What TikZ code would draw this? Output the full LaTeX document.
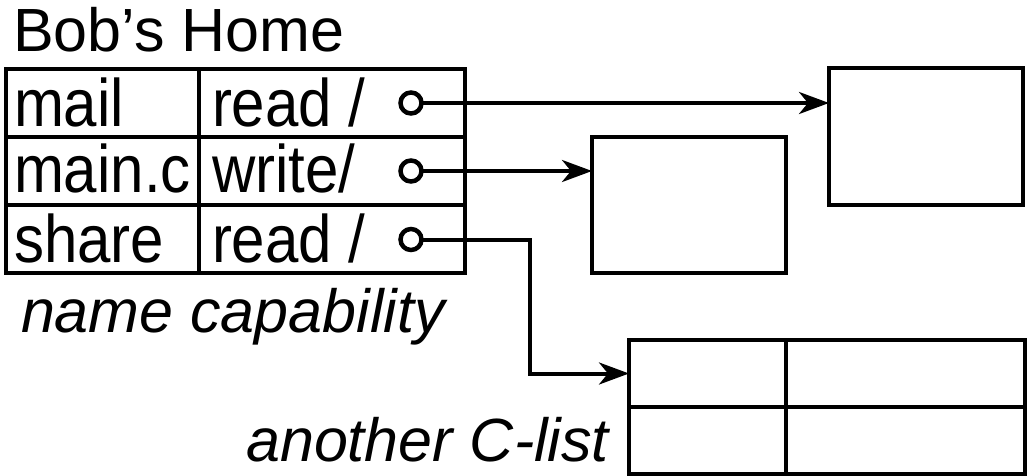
\documentclass[tikz,border=0pt]{standalone}
\usepackage{fontspec}
\setmainfont{Liberation Sans}
\usetikzlibrary{arrows.meta}
\newcommand{\tall}[1]{\scalebox{1}[1.12]{#1}}
\begin{document}
\begin{tikzpicture}[x=1pt,y=-1pt,
  line width=4.5pt,
  cellbox/.style={draw, rectangle, inner sep=0pt, outer sep=0pt, anchor=north west},
  txt/.style={inner sep=0pt, outer sep=0pt, anchor=base west, font=\fontsize{60}{60}\selectfont},
  itxt/.style={inner sep=0pt, outer sep=0pt, font=\fontsize{61}{61}\selectfont\itshape},
  port/.style={draw, circle, minimum size=21pt, inner sep=0pt, outer sep=0pt, fill=white},
  link/.style={line width=4pt, -{Stealth[length=30pt, width=22pt, inset=9pt]}},
  plain/.style={line width=4pt}
]
\useasboundingbox (0,0) rectangle (1029,476);

% title
\node[inner sep=0pt, anchor=base west, font=\fontsize{61}{61}\selectfont] (title) at (11,52) {Bob’s Home};

% C-list table of Bob's Home
\node[cellbox, minimum width=193pt, minimum height=68pt] (n1) at (6,69) {};
\node[cellbox, minimum width=266pt, minimum height=68pt] (k1) at (199,69) {};
\node[cellbox, minimum width=193pt, minimum height=68pt] (n2) at (6,137) {};
\node[cellbox, minimum width=266pt, minimum height=68pt] (k2) at (199,137) {};
\node[cellbox, minimum width=193pt, minimum height=68pt] (n3) at (6,205) {};
\node[cellbox, minimum width=266pt, minimum height=68pt] (k3) at (199,205) {};

\node[txt] (t1) at (14,127) {\tall{mail}};
\node[txt] (t2) at (14,193) {\tall{main.c}};
\node[txt] (t3) at (14,262) {\tall{share}};
\node[txt] (r1) at (212,127) {\tall{read /}};
\node[txt] (r2) at (212,193) {\tall{write/}};
\node[txt] (r3) at (212,262) {\tall{read /}};

\node[port] (c1) at (411,103) {};
\node[port] (c2) at (411,171) {};
\node[port] (c3) at (411,239.5) {};

\node[itxt, anchor=base west] (lab1) at (21,332) {name capability};

% objects
\node[cellbox, minimum width=194pt, minimum height=137pt] (box1) at (829,68) {};
\node[cellbox, minimum width=194pt, minimum height=136pt] (box2) at (592,137) {};

% another C-list
\node[cellbox, minimum width=157pt, minimum height=67pt] (cl1) at (629,340) {};
\node[cellbox, minimum width=239pt, minimum height=67pt] (cl2) at (786,340) {};
\node[cellbox, minimum width=157pt, minimum height=67pt] (cl3) at (629,407) {};
\node[cellbox, minimum width=239pt, minimum height=67pt] (cl4) at (786,407) {};

\node[itxt, anchor=base east] (lab2) at (609,461) {another C-list};

% connectors
\coordinate (bend) at (530,0);
\draw[link] (c1.east) -- (c1 -| box1.west);
\draw[link] (c2.east) -- (c2 -| box2.west);
\draw[link] (c3.east) -| (bend |- cl1.west) -- (cl1.west);
\end{tikzpicture}
\end{document}
